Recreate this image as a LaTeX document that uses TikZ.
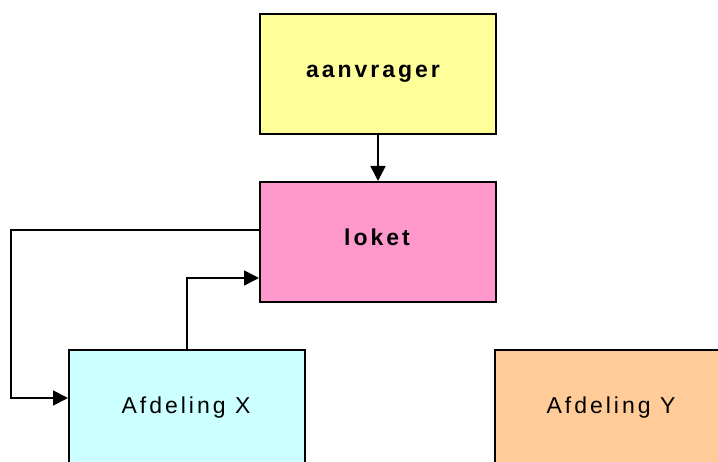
\documentclass[tikz,border=0pt]{standalone}
\usepackage{fontspec}
\setmainfont{Liberation Sans}
\newfontfamily\boxfont[LetterSpace=13]{Liberation Sans}
\usetikzlibrary{arrows.meta}
\definecolor{aanvragerfill}{HTML}{FFFF99}
\definecolor{loketfill}{HTML}{FF99CC}
\definecolor{afdxfill}{HTML}{CCFFFF}
\definecolor{afdyfill}{HTML}{FFCC99}
\begin{document}
\begin{tikzpicture}[x=1pt,y=-1pt,
  unit/.style={draw=black, line width=2pt, minimum width=236pt, minimum height=120pt,
    inner sep=0pt, text height=12pt, text depth=4.6pt,
    font=\boxfont\fontsize{23}{27}\selectfont},
  boldunit/.style={unit, font=\boxfont\bfseries\fontsize{23}{27}\selectfont},
  flow/.style={line width=1.8pt, -{Triangle[length=15pt,width=15pt]}}]
\useasboundingbox (0,0) rectangle (718,462);
\clip (0,0) rectangle (718,462);
% boxes
\node[boldunit, fill=aanvragerfill] (aanvrager) at (378,74) {aanvrager\kern10pt};
\node[boldunit, fill=loketfill] (loket) at (378,242) {loket\kern2pt};
\node[unit, fill=afdxfill] (afdX) at (187,410) {Afdeling X\kern2pt};
\node[unit, fill=afdyfill] (afdY) at (613,410) {Afdeling Y\kern4pt};
% connectors
\coordinate (bendL) at (11,230);
\draw[flow] (aanvrager) -- (loket);
\draw[flow] ([yshift=12pt]loket.west) -- (bendL) |- ([yshift=12pt]afdX.west);
\draw[flow] (afdX.north) |- ([yshift=-36pt]loket.west);
\end{tikzpicture}
\end{document}
